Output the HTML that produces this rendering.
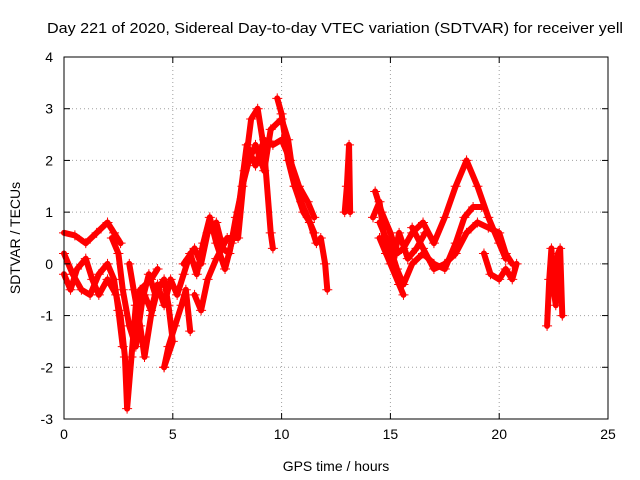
<!DOCTYPE html>
<html><head><meta charset="utf-8"><style>
body{margin:0;background:#fff}
svg{display:block;font-family:"Liberation Sans",Arial,sans-serif}
</style></head><body>
<svg id="chart" width="640" height="480">
<rect width="640" height="480" fill="#fff"/>
<text x="47" y="33" font-size="15" textLength="576" lengthAdjust="spacingAndGlyphs">Day 221 of 2020, Sidereal Day-to-day VTEC variation (SDTVAR) for receiver yell</text>
<g id="grid"></g><g id="marks"></g>
<rect x="64" y="57" width="544" height="362" fill="none" stroke="#000"/>
<g id="ticks" font-size="14"></g>
<text x="336" y="471" text-anchor="middle" font-size="14">GPS time / hours</text>
<text transform="translate(20,238) rotate(-90)" text-anchor="middle" font-size="14">SDTVAR / TECUs</text>
</svg>
<script>
const xTicks=[0,5,10,15,20,25];
const yTicks=[-3,-2,-1,0,1,2,3,4];
const track1=[[0,0.6],[0.5,0.55],[1,0.4],[1.5,0.6],[2,0.8],[2.3,0.6],[2.6,0.4]];
const track2=[[0,-0.2],[0.3,-0.5],[0.6,-0.1],[1,0.1],[1.3,-0.3],[1.6,-0.6],[2,-0.3],[2.4,-0.6],[2.6,-1.0],[2.8,-1.8],[2.9,-2.8],[3.1,-1.8],[3.3,-0.8],[3.5,-0.5],[4,-0.3],[4.3,-0.1]];
const track3=[[0,0.2],[0.4,-0.2],[0.8,-0.5],[1.2,-0.6],[1.6,-0.2],[2,0],[2.3,-0.3],[2.5,-0.9],[2.7,-1.6]];
const track4=[[3,0],[3.2,-0.5],[3.5,-1.2],[3.7,-1.8],[4,-1.0],[4.3,-0.5],[4.6,-0.3],[4.8,-0.8],[5,-1.5],[4.6,-2.0]];
const track5=[[4.6,-2.0],[4.8,-1.6],[5.1,-1.2],[5.4,-0.8],[5.6,-0.5],[5.8,-1.3]];
const track6=[[5.5,0],[6,0.3],[6.3,0],[6.6,0.6],[7,0.8],[7.3,0.3],[7.6,0.2],[7.9,0.9],[8.2,1.5],[8.5,2],[8.8,2.3],[9.2,1.8],[9.5,2.6],[10,2.8],[10.3,2.4],[10.6,1.5],[11,1.0],[11.3,0.8],[11.6,0.4]];
const track7=[[6,-0.6],[6.3,-0.9],[6.6,-0.3],[7,0.1],[7.5,0.5],[8,0.5],[8.3,1.8],[8.6,2.8],[8.9,3.0],[9.2,2.2],[9.5,0.6],[9.6,0.3]];
const track8=[[8,1.0],[8.4,2.3],[8.8,1.9],[9.2,2.4],[9.6,2.3],[10,2.4],[10.4,2.0],[10.8,1.5],[11.2,1.2],[11.5,0.9]];
const track9=[[9.8,3.2],[10,2.9],[10.3,2.0],[10.6,1.5],[10.9,1.2],[11.2,0.9],[11.5,0.6]];
const track10=[[11.8,0.5],[12,0],[12.1,-0.5]];
const track11=[[12.9,1.0],[13,1.5],[13.1,2.3],[13.15,1.0]];
const track12=[[14.3,1.4],[14.6,1.0],[15,0.6],[15.3,0.2],[15.6,0.3],[16,0.6],[16.5,0.8],[17,0.4],[17.5,0.9],[18,1.5],[18.5,2.0],[19,1.5],[19.5,0.9],[20,0.4],[20.3,0.1]];
const track13=[[14.5,0.8],[15,0.3],[15.3,-0.1],[15.6,-0.4],[16,0.0],[16.5,0.2],[17,0.0],[17.5,-0.1],[18,0.4],[18.4,0.9],[18.8,1.1],[19.2,1.1]];
const track14=[[14.5,0.5],[15,0.0],[15.4,-0.4],[15.6,-0.6]];
const track15=[[16,0.7],[16.5,0.3],[17,-0.1],[17.5,0.0],[18,0.2],[18.5,0.6],[19,0.8],[19.5,0.7],[20,0.6],[20.3,0.2],[20.6,0]];
const track16=[[19.3,0.2],[19.6,-0.2],[20,-0.3],[20.3,-0.1],[20.6,-0.3],[20.8,0.0]];
const track17=[[22.2,-1.2],[22.3,-0.3],[22.4,0.3],[22.5,-0.5],[22.6,-0.8],[22.7,0.2],[22.8,0.3],[22.9,-1.0]];
const track18=[[3.4,-1.0],[3.7,-0.6],[4,-0.9],[4.3,-0.4],[4.6,-0.8],[4.9,-0.3],[5.2,-0.6],[5.5,-0.2],[5.8,0.2],[6.1,-0.2],[6.4,0.4],[6.7,0.9],[7,0.4],[7.4,-0.1],[7.7,0.4],[8,0.9]];
const track19=[[2.2,0.5],[2.5,0.2],[2.7,-0.5],[3,-1.2],[3.3,-1.6],[3.6,-0.7],[3.9,-0.2],[4.2,-0.6]];
const track20=[[14.2,0.9],[14.5,1.2],[14.8,0.2],[15.1,0.0],[15.4,0.6],[15.8,0.1],[16.2,0.3],[16.6,0.6]];
const tracks=[track1,track2,track3,track4,track5,track6,track7,track8,track9,track10,track11,track12,track13,track14,track15,track16,track17,track18,track19,track20];

const X0=64,X1=608,Y0=419,Y1=57;
const xs=v=>X0+(v-0)/(25-0)*(X1-X0);
const ys=v=>Y0-(v+3)/(4+3)*(Y0-Y1);
const NS="http://www.w3.org/2000/svg";
const grid=document.getElementById('grid'),ticks=document.getElementById('ticks'),marks=document.getElementById('marks');
function mk(tag,attrs,parent){const e=document.createElementNS(NS,tag);for(const k in attrs)e.setAttribute(k,attrs[k]);parent.appendChild(e);return e;}
xTicks.forEach(t=>{
  const x=xs(t);
  if(t>0&&t<25){const g=mk('line',{x1:x,x2:x,y1:Y0,y2:Y1,stroke:'#a0a0a0','stroke-dasharray':'1,3'},grid);
  
  }
  const tl=mk('text',{x:x,y:Y0+20,'text-anchor':'middle'},ticks);tl.textContent=t;
  
  
  mk('line',{x1:x,x2:x,y1:Y0,y2:Y0-6,stroke:'#000'},ticks);
  mk('line',{x1:x,x2:x,y1:Y1,y2:Y1+6,stroke:'#000'},ticks);
});
yTicks.forEach(t=>{
  const y=ys(t);
  if(t>-3&&t<4){const g=mk('line',{x1:X0,x2:X1,y1:y,y2:y,stroke:'#a0a0a0','stroke-dasharray':'1,3'},grid);
  
  }
  const tl=mk('text',{x:X0-11,y:y+5,'text-anchor':'end'},ticks);tl.textContent=t;
  
  
  mk('line',{x1:X0,x2:X0+6,y1:y,y2:y,stroke:'#000'},ticks);
  mk('line',{x1:X1,x2:X1-6,y1:y,y2:y,stroke:'#000'},ticks);
});
tracks.forEach((tr,i)=>{
  const pl=mk('polyline',{points:tr.map(p=>xs(p[0])+','+ys(p[1])).join(' '),fill:'none',stroke:'#ff0000','stroke-width':6,'stroke-linejoin':'round','stroke-linecap':'round'},marks);
  
  
  tr.forEach(p=>{
    const x=xs(p[0]),y=ys(p[1]);
    const m=mk('path',{d:`M${x-5},${y}H${x+5}M${x},${y-5}V${y+5}`,stroke:'#ff0000','stroke-width':1},marks);
    
    
  });
});
</script>
</body></html>
